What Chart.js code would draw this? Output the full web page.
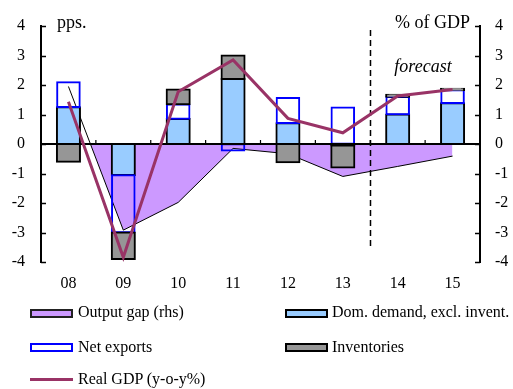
<!DOCTYPE html>
<html><head><meta charset="utf-8">
<script src="https://cdn.jsdelivr.net/npm/chart.js@4/dist/chart.umd.min.js"></script>
<style>
html,body{margin:0;padding:0;background:#fff;}
#wrap{position:relative;width:513px;height:389px;overflow:hidden;}
canvas{position:absolute;left:0;top:0;}
.tx{position:absolute;font-family:"Liberation Serif","Times New Roman",serif;font-size:16px;color:#000;line-height:18px;white-space:nowrap;}
.sw{position:absolute;box-sizing:border-box;width:43px;height:9px;}
</style></head>
<body>
<div id="wrap">
<canvas id="c" width="513" height="389"></canvas>
<div class="sw" style="left:30px;top:309px;border:2px solid #222;background:#cc99ff;"></div>
<div class="tx" style="left:78px;top:303px;">Output gap (rhs)</div>
<div class="sw" style="left:285px;top:309px;border:2.5px solid #000;background:#99ccff;"></div>
<div class="tx" style="left:332px;top:303px;">Dom. demand, excl. invent.</div>
<div class="sw" style="left:30px;top:343px;border:2px solid #0000ff;background:#fff;"></div>
<div class="tx" style="left:78px;top:338px;">Net exports</div>
<div class="sw" style="left:285px;top:343px;border:2.5px solid #000;background:#969696;"></div>
<div class="tx" style="left:332px;top:338px;">Inventories</div>
<div class="sw" style="left:30px;top:378px;height:3px;background:#993366;"></div>
<div class="tx" style="left:78px;top:370px;">Real GDP (y-o-y%)</div>
</div>
<script>
const categories = ['08','09','10','11','12','13','14','15'];
const domDemand  = [1.25, -1.05, 0.85, 2.2, 0.7, -0.05, 1.0, 1.38];
const netExports = [0.85, -1.95, 0.5, -0.23, 0.87, 1.25, 0.6, 0.45];
const inventories= [-0.6, -0.9, 0.5, 0.8, -0.62, -0.75, 0.07, 0.04];
const outputGap  = [1.95, -2.92, -1.98, -0.15, -0.33, -1.1, -0.76, -0.41];
const realGDP    = [1.43, -3.84, 1.77, 2.85, 0.87, 0.38, 1.63, 1.85];
const yTicks = [-4,-3,-2,-1,0,1,2,3,4];
const forecastAfter = '13';

const FONT = '"Liberation Serif","Times New Roman",serif';
Chart.defaults.font.family = FONT;
Chart.defaults.font.size = 16;
Chart.defaults.color = '#000';

const GAP = 0, BARS = [1,2,3];

const barOrderPlugin = {
  id: 'barOrder',
  beforeDatasetDraw(chart, args) {
    if (BARS.includes(args.index)) return false;
  },
  afterDatasetDraw(chart, args) {
    if (args.index !== GAP) return;
    for (const i of BARS) chart.getDatasetMeta(i).controller.draw();
    const ctx = chart.ctx, ca = chart.chartArea;
    const x = chart.scales.x, y = chart.scales.y;
    const y0 = y.getPixelForValue(0);
    ctx.save();
    ctx.strokeStyle = '#000';
    // zero line
    ctx.lineWidth = 2;
    ctx.beginPath(); ctx.moveTo(ca.left, y0); ctx.lineTo(ca.right, y0); ctx.stroke();
    // category boundary ticks
    ctx.lineWidth = 1.2;
    for (let i = 0; i < categories.length - 1; i++) {
      const bx = (x.getPixelForValue(i) + x.getPixelForValue(i+1)) / 2;
      ctx.beginPath(); ctx.moveTo(bx, y0); ctx.lineTo(bx, y0 - 4); ctx.stroke();
    }
    // inward y ticks
    ctx.lineWidth = 1.5;
    for (const v of yTicks) {
      const py = Math.round(y.getPixelForValue(v)) + 0.5;
      ctx.beginPath(); ctx.moveTo(ca.left, py); ctx.lineTo(ca.left + 5, py); ctx.stroke();
      ctx.beginPath(); ctx.moveTo(ca.right, py); ctx.lineTo(ca.right - 5, py); ctx.stroke();
    }
    // forecast dashed line
    const fi = categories.indexOf(forecastAfter);
    const fx = Math.round((x.getPixelForValue(fi) + x.getPixelForValue(fi+1)) / 2) + 0.5;
    ctx.lineWidth = 1.5;
    ctx.setLineDash([6, 4]);
    ctx.beginPath(); ctx.moveTo(fx, ca.top + 4); ctx.lineTo(fx, ca.bottom - 12); ctx.stroke();
    ctx.setLineDash([]);
    // texts
    ctx.fillStyle = '#000';
    ctx.textBaseline = 'alphabetic';
    ctx.font = '18px ' + FONT;
    ctx.textAlign = 'left';
    ctx.fillText('pps.', 57, 27.5);
    ctx.textAlign = 'right';
    ctx.fillText('% of GDP', 470, 28);
    ctx.textAlign = 'center';
    ctx.font = 'italic 18px ' + FONT;
    ctx.fillText('forecast', 423, 72);
    ctx.restore();
  }
};

const barCommon = { borderWidth: 2, borderSkipped: false, inflateAmount: 1,
  barPercentage: 0.42, categoryPercentage: 1 };

new Chart(document.getElementById('c'), {
  data: {
    labels: categories,
    datasets: [
      { type: 'line', label: 'Output gap (rhs)', data: outputGap, yAxisID: 'y2', order: 4,
        borderColor: '#000', borderWidth: 1, pointRadius: 0, tension: 0,
        fill: { target: 'origin', above: 'rgba(0,0,0,0)', below: '#cc99ff' } },
      Object.assign({ type: 'bar', label: 'Dom. demand, excl. invent.', data: domDemand, yAxisID: 'y', order: 1,
        backgroundColor: '#99ccff', borderColor: '#000' }, barCommon),
      Object.assign({ type: 'bar', label: 'Net exports', data: netExports, yAxisID: 'y', order: 2,
        backgroundColor: 'rgba(255,255,255,0)', borderColor: '#0000ff' }, barCommon,
        { borderWidth: 0.5, inflateAmount: 0.75 }),
      Object.assign({ type: 'bar', label: 'Inventories', data: inventories, yAxisID: 'y', order: 3,
        backgroundColor: '#969696', borderColor: '#000' }, barCommon),
      { type: 'line', label: 'Real GDP (y-o-y%)', data: realGDP, yAxisID: 'y2', order: 0,
        borderColor: '#993366', borderWidth: 3, pointRadius: 0, tension: 0, fill: false }
    ]
  },
  options: {
    responsive: false,
    animation: false,
    layout: { padding: { top: 26, bottom: 97, left: 0, right: 0 } },
    plugins: { legend: { display: false }, tooltip: { enabled: false } },
    scales: {
      x: {
        stacked: true, offset: true,
        grid: { display: false, drawTicks: false },
        border: { display: false },
        ticks: { padding: 12, font: { size: 16 } },
        afterFit(s) { s.height = 30; }
      },
      y: {
        position: 'left', stacked: true, min: -4, max: 4,
        grid: { display: false, drawTicks: false },
        border: { display: true, color: '#000', width: 2 },
        ticks: { stepSize: 1, padding: 16, autoSkip: false },
        afterFit(s) { s.width = 41; }
      },
      y2: {
        position: 'right', min: -4, max: 4,
        grid: { display: false, drawTicks: false },
        border: { display: true, color: '#000', width: 2 },
        ticks: { stepSize: 1, padding: 15, autoSkip: false },
        afterFit(s) { s.width = 33; }
      }
    }
  },
  plugins: [barOrderPlugin]
});
</script>
</body></html>
